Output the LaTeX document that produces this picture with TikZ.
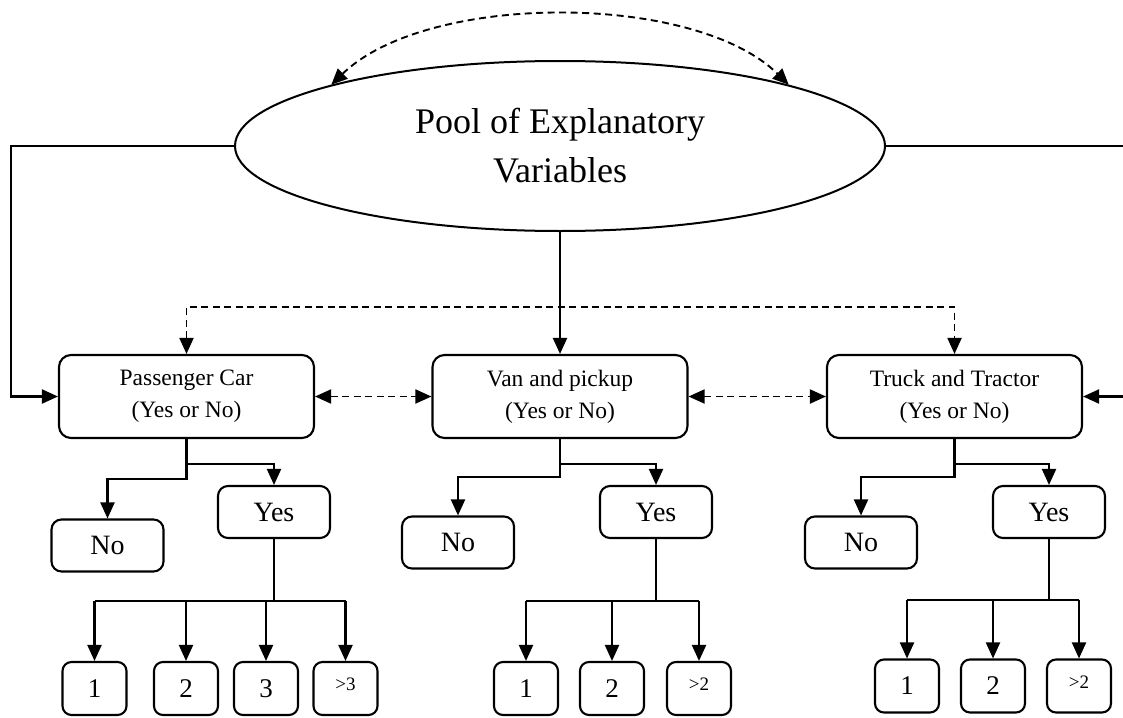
\documentclass[tikz,border=0pt]{standalone}
\usepackage{fontspec}
\setmainfont{Liberation Serif}
\usetikzlibrary{arrows.meta,shapes.geometric}
\newcommand{\mygt}[1]{\raisebox{4pt}[\height][\depth]{\fontsize{19}{19}\selectfont >#1}}
\begin{document}
\begin{tikzpicture}[x=1pt,y=-1pt,
  every node/.style={inner sep=0pt},
  tip/.tip={Triangle[length=16pt,width=14pt]},
  ln/.style={line width=2.1pt},
  arr/.style={line width=2.1pt,-tip},
  darr/.style={line width=1.9pt,dash pattern=on 7pt off 4.5pt,tip-tip},
  pool/.style={ellipse,draw,line width=2pt,minimum width=650pt,minimum height=170pt,align=center,font=\fontsize{36}{49}\selectfont},
  catbox/.style={draw,line width=2.1pt,rounded corners=12pt,minimum width=255pt,minimum height=83pt,align=center,font=\fontsize{23.5}{32}\selectfont},
  ansbox/.style={draw,line width=2.1pt,rounded corners=10pt,minimum width=112pt,minimum height=52pt,font=\fontsize{28}{28}\selectfont},
  numbox/.style={draw,line width=2.1pt,rounded corners=9pt,minimum width=64pt,minimum height=53pt,font=\fontsize{27}{27}\selectfont}
]
\useasboundingbox (0,0) rectangle (1123,717);

% main ellipse
\node[pool] (pool) at (560,146) {Pool of Explanatory\\Variables};

% category boxes
\node[catbox] (pc) at (186.5,396.5) {Passenger Car\\(Yes or No)};
\node[catbox] (vp) at (560,396.5) {Van and pickup\\(Yes or No)};
\node[catbox] (tt) at (954.5,396.5) {Truck and Tractor\\(Yes or No)};

% yes / no boxes
\node[ansbox] (pcno) at (107.5,545.5) {No};
\node[ansbox] (pcyes) at (274,512) {Yes};
\node[ansbox] (vpno) at (458,542.5) {No};
\node[ansbox] (vpyes) at (656,512) {Yes};
\node[ansbox] (ttno) at (861,542.5) {No};
\node[ansbox] (ttyes) at (1049,512) {Yes};

% number boxes
\node[numbox] (pc1) at (94.5,688.5) {1};
\node[numbox] (pc2) at (186,688.5) {2};
\node[numbox] (pc3) at (266,688.5) {3};
\node[numbox] (pc4) at (345.5,688.5) {\mygt{3}};
\node[numbox] (vp1) at (526,688.5) {1};
\node[numbox] (vp2) at (612,688.5) {2};
\node[numbox] (vp3) at (699,688.5) {\mygt{2}};
\node[numbox] (tt1) at (907,686) {1};
\node[numbox] (tt2) at (993,686) {2};
\node[numbox] (tt3) at (1079,686) {\mygt{2}};

% coordinates
\coordinate (lc) at (11,146);
\coordinate (rc) at (1124,146);
\coordinate (dl) at (186.5,307);
\coordinate (dr) at (954.5,307);

% top dashed arc
\draw[darr] (pool.165) .. controls (427,-8) and (694,-8) .. (pool.15);

% ellipse to category boxes
\draw[arr] (pool.west) -- (lc) |- (pc.west);
\draw[arr] (pool.east) -- (rc) |- (tt.east);
\draw[arr] (pool.south) -- (vp.north);

% dashed links between categories
\draw[darr] (pc.north) -- (dl) -- (dr) -- (tt.north);
\draw[darr] (pc.east) -- (vp.west);
\draw[darr] (vp.east) -- (tt.west);

% category to yes / no
\draw[arr] (pc.south) -- ++(0,40) -| (pcno.north);
\draw[arr] (pc.south) ++(0,25) -| (pcyes.north);
\draw[arr] (vp.south) -- ++(0,38) -| (vpno.north);
\draw[arr] (vp.south) ++(0,25) -| (vpyes.north);
\draw[arr] (tt.south) -- ++(0,38) -| (ttno.north);
\draw[arr] (tt.south) ++(0,25) -| (ttyes.north);

% yes to numbers
\draw[ln] (pcyes.south) -- ++(0,62) coordinate (pcb);
\draw[ln] (pc1.north |- pcb) -- (pc4.north |- pcb);
\foreach \n in {pc1,pc2,pc3,pc4}{\draw[arr] (\n.north |- pcb) -- (\n.north);}
\draw[ln] (vpyes.south) -- ++(0,62) coordinate (vpb);
\draw[ln] (vp1.north |- vpb) -- (vp3.north |- vpb);
\foreach \n in {vp1,vp2,vp3}{\draw[arr] (\n.north |- vpb) -- (\n.north);}
\draw[ln] (ttyes.south) -- ++(0,60.5) coordinate (ttb);
\draw[ln] (tt1.north |- ttb) -- (tt3.north |- ttb);
\foreach \n in {tt1,tt2,tt3}{\draw[arr] (\n.north |- ttb) -- (\n.north);}
\end{tikzpicture}
\end{document}
